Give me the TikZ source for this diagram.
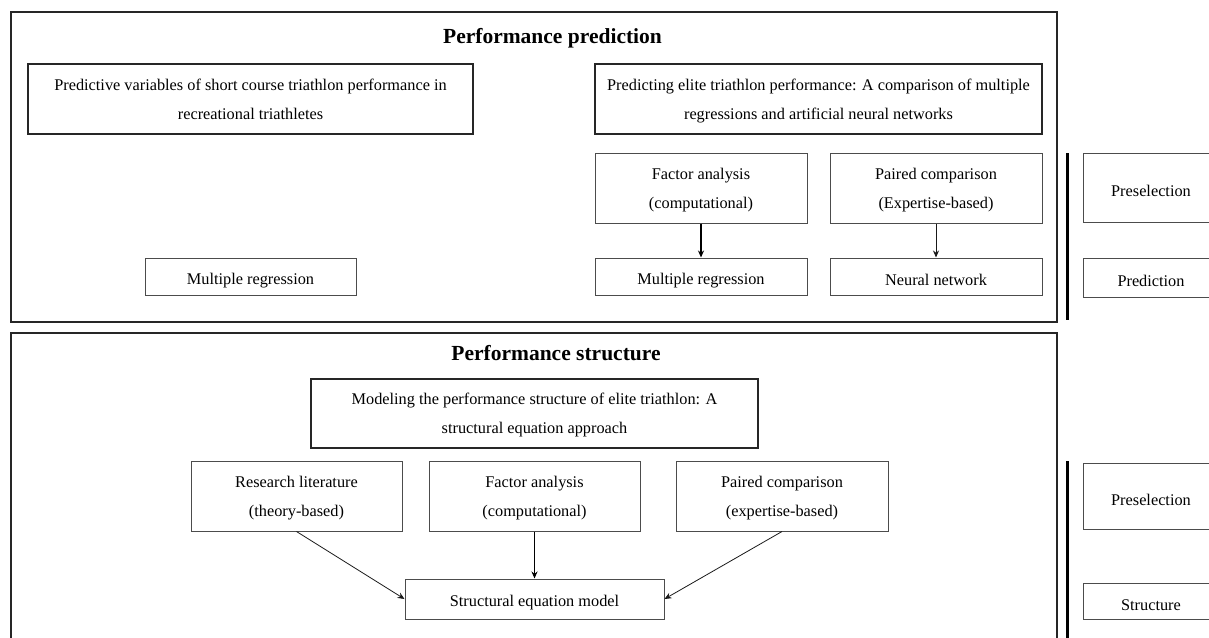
\documentclass[tikz,border=0pt]{standalone}
\usepackage{fontspec}
\setmainfont{Liberation Serif}
\usetikzlibrary{arrows.meta}
\tikzset{
  frame/.style={draw=black!85, line width=1.8pt, inner sep=0pt},
  boxtext/.style={inner sep=0pt, align=center, font=\fontsize{16.3}{29}\selectfont},
  % a strut at the start of a single line lowers the text a little in its box
  lowered/.style={execute at begin node={\rule{0pt}{#1}}},
  paper/.style={boxtext, draw=black!85, line width=1.6pt, text depth=0pt},
  stepbox/.style={boxtext, draw=black!70, line width=1pt, text depth=0pt},
  onebox/.style={boxtext, draw=black!70, line width=1pt, lowered=19pt},
  heading/.style={font=\fontsize{21.5}{24}\selectfont\bfseries, inner sep=0pt},
  divider/.style={line width=3pt, black},
  flow/.style={-{Stealth[length=7pt,width=6pt]}, line width=0.8pt, black!90},
  flowbold/.style={-{Stealth[length=7pt,width=6pt]}, line width=1.6pt, black},
}
\begin{document}
\begin{tikzpicture}[x=1pt, y=-1pt]
  \clip (0,0) rectangle (1209,637);
  \fill[white] (0,0) rectangle (1209,637);

  % ---------- Performance prediction ----------
  \node[frame, minimum width=1046pt, minimum height=310pt] (frameP) at (534,167) {};
  \node[heading, anchor=base] (titleP) at (552.5,43) {Performance prediction};

  \node[paper, minimum width=445pt, minimum height=70pt] (paperA) at (250.5,99)
    {Predictive variables of short course triathlon performance in\\recreational triathletes};
  \node[onebox, minimum width=211pt, minimum height=37pt] (mrA) at (250.5,276.5) {Multiple regression};

  \node[paper, minimum width=447pt, minimum height=70pt] (paperB) at (818.5,99)
    {Predicting elite triathlon performance: A comparison of multiple\\regressions and artificial neural networks};
  \node[stepbox, minimum width=212pt, minimum height=70pt] (faB) at (701,188)
    {Factor analysis\\(computational)};
  \node[stepbox, minimum width=212pt, minimum height=70pt] (pcB) at (936,188)
    {Paired comparison\\(Expertise-based)};
  \node[onebox, minimum width=212pt, minimum height=37pt] (mrB) at (701,276.5) {Multiple regression};
  \node[onebox, minimum width=212pt, minimum height=37pt] (nnB) at (936,276.5) {Neural network};

  \draw[flowbold] (faB.south) -- (mrB.north);
  \draw[flow] (pcB.south) -- (nnB.north);

  % phase labels on the right
  \coordinate (divPtop) at (1067,153);
  \coordinate (divPbot) at (1067,320);
  \draw[divider] (divPtop) -- (divPbot);
  \node[onebox, minimum width=136pt, minimum height=69pt] (preP) at (1151,187.5) {Preselection};
  \node[onebox, minimum width=136pt, minimum height=39pt] (predP) at (1151,277.5) {Prediction};

  % ---------- Performance structure ----------
  \node[frame, minimum width=1046pt, minimum height=330pt] (frameS) at (534,498) {};
  \node[heading, anchor=base] (titleS) at (556,360) {Performance structure};

  \node[paper, minimum width=447pt, minimum height=69pt] (paperS) at (534.5,413.5)
    {Modeling the performance structure of elite triathlon: A\\structural equation approach};
  \node[stepbox, minimum width=211pt, minimum height=70pt] (rlS) at (296.5,496)
    {Research literature\\(theory-based)};
  \node[stepbox, minimum width=211pt, minimum height=70pt] (faS) at (534.5,496)
    {Factor analysis\\(computational)};
  \node[stepbox, minimum width=212pt, minimum height=70pt] (pcS) at (782,496)
    {Paired comparison\\(expertise-based)};
  \node[onebox, minimum width=259pt, minimum height=40pt] (semS) at (534.5,599)
    {Structural equation model};

  \draw[flow] (rlS.south) -- (semS.west);
  \draw[flowbold] (faS.south) -- (semS.north);
  \draw[flow] (pcS.south) -- (semS.east);

  \coordinate (divStop) at (1067,461);
  \coordinate (divSbot) at (1067,650);
  \draw[divider] (divStop) -- (divSbot);
  \node[onebox, minimum width=136pt, minimum height=66pt] (preS) at (1151,496) {Preselection};
  \node[onebox, minimum width=136pt, minimum height=36pt] (strS) at (1151,601) {Structure};
\end{tikzpicture}
\end{document}
